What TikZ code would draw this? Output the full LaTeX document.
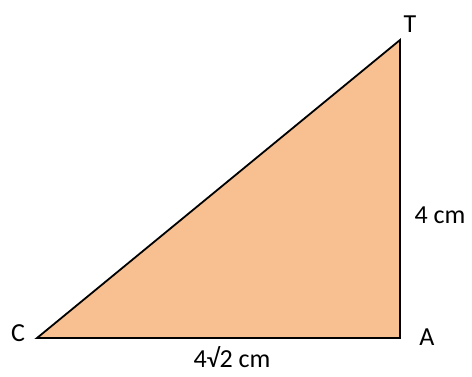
\documentclass[tikz,border=0pt]{standalone}
\usepackage{fontspec}
\setmainfont{Carlito}
\definecolor{trifill}{RGB}{248,192,144}
\begin{document}
\begin{tikzpicture}[x=1pt,y=-1pt,
  lbl/.style={inner sep=0pt,font=\fontsize{26}{31}\selectfont},
  tri/.style={draw=black,line width=1.8pt,fill=trifill,line join=miter}]
\useasboundingbox (0,0) rectangle (472,376);
\coordinate (C) at (37,338);
\coordinate (A) at (400,338);
\coordinate (T) at (400,40);
\draw[tri] (C) -- (A) -- (T) -- cycle;
\node[lbl] (lT) at (410,24) {T};
\node[lbl] (lC) at (18,333) {C};
\node[lbl] (lA) at (427,337) {A};
\node[lbl] (l1) at (440,215) {4 cm};
\node[lbl,anchor=base] (l2) at (232,367) {4√2 cm};
\end{tikzpicture}
\end{document}
